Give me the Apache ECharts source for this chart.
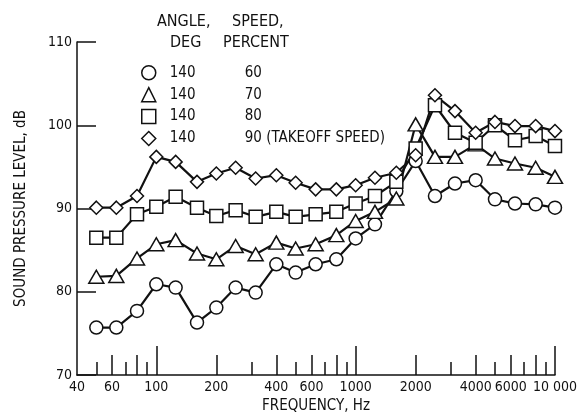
<!DOCTYPE html>
<html>
<head>
<meta charset="utf-8">
<script src="https://cdn.jsdelivr.net/npm/echarts@6/dist/echarts.min.js"></script>
<style>
  html, body { margin: 0; padding: 0; background: #fff; }
  #chart { width: 580px; height: 419px; }
</style>
</head>
<body>
<div id="chart"></div>
<script>
// one-third octave band centre frequencies, Hz
const freqs = [50, 63, 80, 100, 125, 160, 200, 250, 315, 400, 500, 630,
  800, 1000, 1250, 1600, 2000, 2500, 3150, 4000, 5000, 6300, 8000, 10000];

// sound pressure level, dB, angle 140 deg
const spl60 = [75.7, 75.7, 77.7, 80.9, 80.5, 76.3, 78.1, 80.5, 79.9, 83.3, 82.3, 83.3,
  83.9, 86.4, 88.1, 92.1, 95.7, 91.5, 93.0, 93.4, 91.1, 90.6, 90.5, 90.1];
const spl70 = [81.8, 81.9, 84.0, 85.7, 86.2, 84.6, 83.9, 85.5, 84.5, 85.9, 85.2, 85.7,
  86.8, 88.5, 89.6, 91.2, 100.1, 96.2, 96.2, 97.7, 96.0, 95.4, 94.9, 93.8];
const spl80 = [86.5, 86.5, 89.3, 90.2, 91.4, 90.1, 89.1, 89.8, 89.0, 89.6, 89.0, 89.3,
  89.6, 90.6, 91.5, 93.2, 97.2, 102.4, 99.1, 97.9, 100.0, 98.2, 98.7, 97.5];
const spl90 = [90.1, 90.1, 91.5, 96.2, 95.6, 93.2, 94.2, 94.9, 93.6, 94.0, 93.1, 92.3,
  92.3, 92.8, 93.7, 94.3, 96.4, 103.6, 101.7, 99.1, 100.4, 99.9, 99.9, 99.3];

const angle = '140';
const speeds = ['60', '70', '80', '90 (TAKEOFF SPEED)'];
const symbols = ['circle', 'triangle', 'rect', 'diamond'];

// frequency axis ticks
const labelFreqs = [40, 60, 100, 200, 400, 600, 1000, 2000, 4000, 6000, 10000];
const longTicks = [100, 1000, 10000];
const midTicks = [60, 80, 200, 400, 600, 800, 2000, 4000, 6000, 8000];
const shortTicks = [50, 70, 90, 300, 500, 700, 900, 3000, 5000, 7000, 9000];

const FONT = '"Liberation Sans Narrow", "DejaVu Sans Condensed", "Liberation Sans", sans-serif';
const INK = '#111';

const lg = v => Math.log10(v);

function tickAxis(ticks, len, withLabels) {
  return {
    type: 'value',
    position: 'bottom',
    min: lg(40),
    max: lg(10000),
    axisLine: { show: withLabels, lineStyle: { color: INK, width: 1.5 } },
    axisTick: {
      show: true, inside: true, length: len,
      customValues: ticks.map(lg),
      lineStyle: { color: INK, width: 1.5 }
    },
    axisLabel: withLabels ? {
      show: true,
      customValues: labelFreqs.map(lg),
      color: INK, fontFamily: FONT, fontSize: 14, margin: 5,
      formatter: v => {
        const f = Math.round(Math.pow(10, v));
        return f === 10000 ? '10 000' : String(f);
      }
    } : { show: false },
    splitLine: { show: false },
    name: withLabels ? 'FREQUENCY, Hz' : '',
    nameLocation: 'middle',
    nameGap: 24,
    nameTextStyle: { color: INK, fontFamily: FONT, fontSize: 15 }
  };
}

const seriesData = [spl60, spl70, spl80, spl90];

function header(text, left, top) {
  return { type: 'text', left: left, top: top, style: { text: text, fill: INK, font: '16px ' + FONT } };
}

const chart = echarts.init(document.getElementById('chart'));
chart.setOption({
  animation: false,
  backgroundColor: '#fff',
  grid: { left: 77, right: 24, top: 42, bottom: 43 },
  xAxis: [
    {
      type: 'log', logBase: 10, min: 40, max: 10000, position: 'bottom',
      axisLine: { show: false }, axisTick: { show: false },
      axisLabel: { show: false }, splitLine: { show: false }
    },
    tickAxis(longTicks, 29, true),
    tickAxis(midTicks, 20, false),
    tickAxis(shortTicks, 13, false)
  ],
  yAxis: {
    type: 'value', min: 70, max: 110, interval: 10,
    axisLine: { show: true, lineStyle: { color: INK, width: 1.5 } },
    axisTick: { show: true, inside: true, length: 19, lineStyle: { color: INK, width: 1.5 } },
    axisLabel: { color: INK, fontFamily: FONT, fontSize: 14, margin: 5 },
    splitLine: { show: false },
    name: 'SOUND PRESSURE LEVEL, dB',
    nameLocation: 'middle',
    nameGap: 48,
    nameTextStyle: { color: INK, fontFamily: FONT, fontSize: 15 }
  },
  legend: {
    orient: 'vertical',
    left: 136, top: 60,
    itemWidth: 14, itemHeight: 14, itemGap: 6.4,
    data: speeds.map((s, i) => ({ name: s, icon: symbols[i] })),
    itemStyle: { color: '#fff', borderColor: INK, borderWidth: 1.5 },
    formatter: name => '{a|' + angle + '}{b|' + name + '}',
    textStyle: {
      color: INK, fontFamily: FONT, fontSize: 15, lineHeight: 14,
      rich: {
        a: { width: 75, padding: [0, 0, 0, 9], fontFamily: FONT, fontSize: 15, color: INK },
        b: { fontFamily: FONT, fontSize: 15, color: INK }
      }
    }
  },
  graphic: [
    header('ANGLE,', 157, 14),
    header('DEG', 170, 35),
    header('SPEED,', 232, 14),
    header('PERCENT', 223, 35)
  ],
  series: seriesData.map((vals, i) => ({
    name: speeds[i],
    type: 'line',
    xAxisIndex: 0,
    data: freqs.map((f, j) => [f, vals[j]]),
    symbol: symbols[i],
    symbolSize: symbols[i] === 'triangle' ? [15, 13] : 13,
    showAllSymbol: true,
    lineStyle: { color: INK, width: 2.2 },
    itemStyle: { color: '#fff', borderColor: INK, borderWidth: 1.5 },
    emphasis: { disabled: true }
  }))
});
</script>
</body>
</html>
